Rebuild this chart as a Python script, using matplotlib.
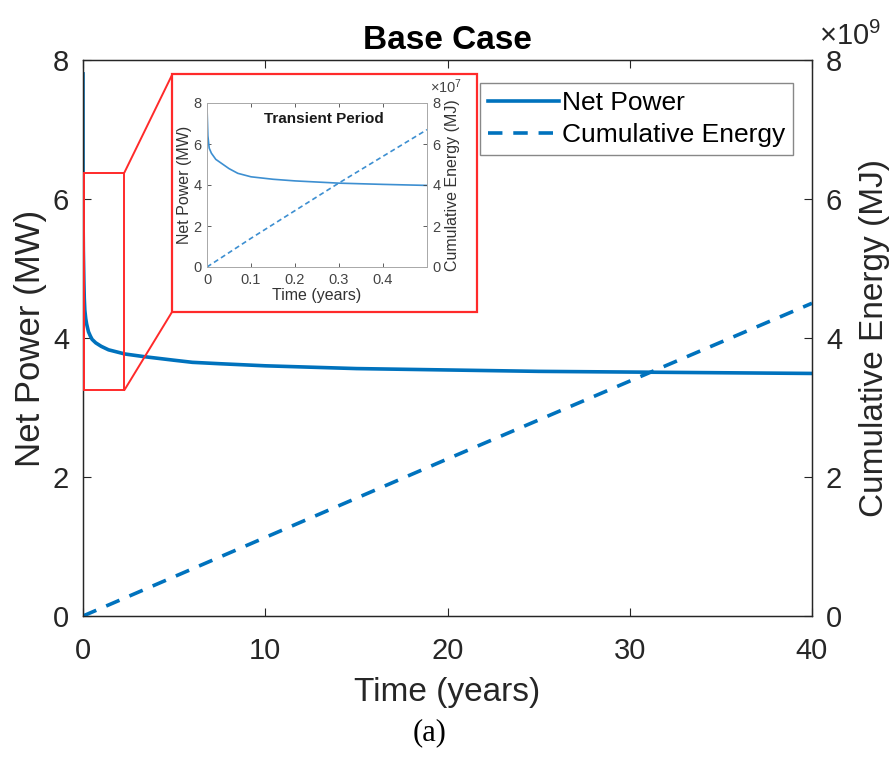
import matplotlib.pyplot as plt
from matplotlib.patches import Rectangle, ConnectionPatch
from matplotlib.ticker import FuncFormatter

plt.rcParams['font.family'] = ['Liberation Sans', 'DejaVu Sans']
plt.rcParams['mathtext.default'] = 'regular'

# net power curve (MW)
time_years = [0, 0.002, 0.005, 0.01, 0.02, 0.03, 0.05, 0.07, 0.1, 0.15, 0.2, 0.3, 0.4, 0.5,
              0.7, 1, 1.4, 2.3, 3.4, 5, 6, 7.5, 10, 15, 20, 25, 30, 35, 40]
net_power = [7.8, 6.4, 5.8, 5.55, 5.25, 5.1, 4.8, 4.57, 4.4, 4.28, 4.2, 4.09, 4.03, 3.98,
             3.93, 3.88, 3.83, 3.77, 3.73, 3.68, 3.65, 3.63, 3.60, 3.56, 3.54, 3.52, 3.51,
             3.50, 3.49]

# cumulative energy (MJ)
energy_time = [0, 10, 20, 30, 40]
energy_mj = [0, 1.13e9, 2.26e9, 3.38e9, 4.5e9]

# transient period (inset)
inset_energy_time = [0, 0.1, 0.2, 0.3, 0.4, 0.5]
inset_energy_mj = [0, 1.4e7, 2.75e7, 4.1e7, 5.4e7, 6.7e7]

main_color = '#0072BD'
inset_color = '#3d8fd1'
text_color = '#262626'

fig = plt.figure(figsize=(8.94, 7.57), dpi=100)
ax = fig.add_axes([83/894, 1-616/757, 729/894, 556/757])
ax2 = ax.twinx()

l1, = ax.plot(time_years, net_power, color=main_color, lw=2.6, label='Net Power')
l2, = ax2.plot(energy_time, energy_mj, color=main_color, lw=2.6, ls=(0, (4, 3)),
               label='Cumulative Energy')

ax.set_xlim(0, 40)
ax.set_ylim(0, 8)
ax2.set_ylim(0, 8e9)
ax.set_xticks([0, 10, 20, 30, 40])
ax.set_yticks([0, 2, 4, 6, 8])
ax2.set_yticks([0, 2e9, 4e9, 6e9, 8e9])
ax2.yaxis.set_major_formatter(FuncFormatter(lambda v, p: f'{v/1e9:g}'))

for a in (ax, ax2):
    a.tick_params(direction='in', labelsize=21, length=6, width=0.8, colors=text_color,
                  top=True, pad=10)
    for s in a.spines.values():
        s.set_color(text_color)
        s.set_linewidth(0.9)
ax.tick_params(axis='x', pad=15)
ax.tick_params(right=False)
ax2.tick_params(left=False, top=False)

ax.set_xlabel('Time (years)', fontsize=24, color=text_color, labelpad=9)
ax.set_ylabel('Net Power (MW)', fontsize=25, color=text_color, labelpad=4)
ax2.set_ylabel('Cumulative Energy (MJ)', fontsize=24, color=text_color, labelpad=12)
ax.set_title('Base Case', fontsize=24, fontweight='bold', pad=8)
fig.text(819/894, 1-45/757, r'$\times10^{9}$', fontsize=21, color=text_color,
         ha='left', va='baseline')

leg = fig.legend(handles=[l1, l2], loc='upper right', bbox_to_anchor=(793/894, 1-83/757),
                 borderaxespad=0, fancybox=False, framealpha=1,
                 edgecolor='#888888', fontsize=19, handlelength=2.7, handletextpad=0.1,
                 borderpad=0.3, labelspacing=0.3)
leg.get_frame().set_linewidth(1.0)

# zoom rectangle on main plot and inset frame
ax2.add_patch(Rectangle((0.05, 3.25), 2.22, 3.13, transform=ax.transData, fill=False,
                        edgecolor='#ff2a2a', lw=1.4, zorder=5))
frame = Rectangle((172/894, 1-312/757), 305/894, 238/757, transform=fig.transFigure,
                  facecolor='white', edgecolor='#ff2a2a', lw=1.6, zorder=3)
fig.patches.append(frame)
for ya, yb in [(6.38, 1-75/757), (3.25, 1-312/757)]:
    cp = ConnectionPatch(xyA=(2.27, ya), coordsA=ax.transData,
                         xyB=(172/894, yb), coordsB=fig.transFigure,
                         color='#ff2a2a', lw=1.4)
    ax2.add_artist(cp)

# inset
ins = fig.add_axes([207/894, 1-267/757, 220/894, 164/757], zorder=4)
ins2 = ins.twinx()
ins.plot(time_years, net_power, color=inset_color, lw=1.2)
ins2.plot(inset_energy_time, inset_energy_mj, color=inset_color, lw=1.2, ls=(0, (3, 2)))
ins.set_xlim(0, 0.5)
ins.set_ylim(0, 8)
ins2.set_ylim(0, 8e7)
ins.set_xticks([0, 0.1, 0.2, 0.3, 0.4])
ins.set_xticklabels(['0', '0.1', '0.2', '0.3', '0.4'])
ins.set_yticks([0, 2, 4, 6, 8])
ins2.set_yticks([0, 2e7, 4e7, 6e7, 8e7])
ins2.yaxis.set_major_formatter(FuncFormatter(lambda v, p: f'{v/1e7:g}'))
for a in (ins, ins2):
    a.tick_params(direction='in', labelsize=10.5, length=3, width=0.6, colors='#444444',
                  top=True, pad=4)
    for s in a.spines.values():
        s.set_color('#aaaaaa')
        s.set_linewidth(0.7)
ins.tick_params(right=False)
ins2.tick_params(left=False, top=False)
ins.set_xlabel('Time (years)', fontsize=11.5, color='#333333', labelpad=1)
ins.set_ylabel('Net Power (MW)', fontsize=11.5, color='#333333', labelpad=1)
ins2.set_ylabel('Cumulative Energy (MJ)', fontsize=11.5, color='#333333', labelpad=3)
ins.text(0.53, 0.9, 'Transient Period', transform=ins.transAxes, ha='center', va='center',
         fontsize=11, fontweight='bold', color='#1a1a1a')
fig.text(430/894, 1-93/757, r'$\times10^{7}$', fontsize=10.5, color='#444444',
         ha='left', va='baseline', zorder=5)

fig.text(430/894, 1-733/757, '(a)', ha='center', va='center', fontsize=22,
         family='Liberation Serif')

fig.savefig('out.png', dpi=100)
